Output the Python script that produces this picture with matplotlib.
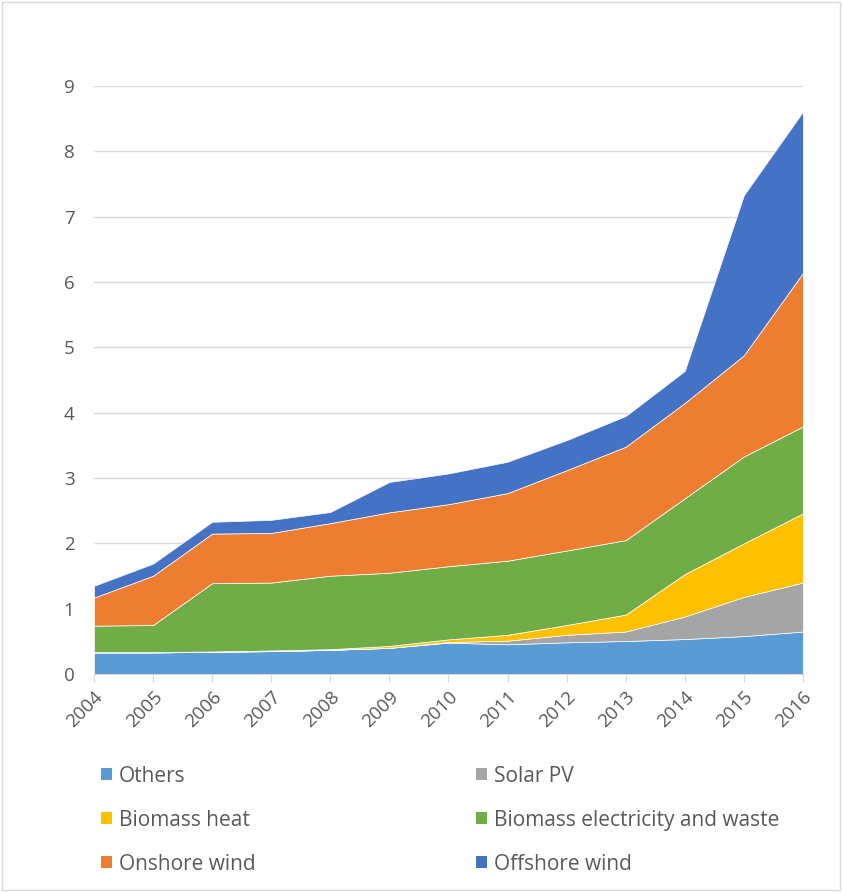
import numpy as np
import matplotlib
matplotlib.use("Agg")
import matplotlib.pyplot as plt
from matplotlib.patches import Patch

years = list(range(2004, 2017))

# values per source (stacked in this order)
others = [0.33, 0.33, 0.34, 0.35, 0.37, 0.40, 0.48, 0.455, 0.485, 0.505, 0.535, 0.58, 0.65]
solar_pv = [0.0, 0.0, 0.0, 0.0, 0.0, 0.0, 0.01, 0.055, 0.115, 0.145, 0.345, 0.60, 0.75]
biomass_heat = [0.005, 0.005, 0.005, 0.01, 0.01, 0.03, 0.04, 0.09, 0.15, 0.26, 0.65, 0.82, 1.06]
biomass_elec = [0.405, 0.415, 1.045, 1.04, 1.125, 1.12, 1.12, 1.135, 1.14, 1.14, 1.16, 1.33, 1.33]
onshore = [0.43, 0.755, 0.76, 0.76, 0.805, 0.925, 0.95, 1.035, 1.23, 1.43, 1.46, 1.55, 2.35]
offshore = [0.18, 0.185, 0.18, 0.20, 0.17, 0.465, 0.47, 0.48, 0.46, 0.47, 0.49, 2.45, 2.47]

labels = ["Others", "Solar PV", "Biomass heat", "Biomass electricity and waste",
          "Onshore wind", "Offshore wind"]
colors = ["#5B9BD5", "#A5A5A5", "#FFC000", "#70AD47", "#ED7D31", "#4472C4"]

plt.rcParams['font.family'] = ['Open Sans', 'DejaVu Sans']

fig = plt.figure(figsize=(8.42, 8.92), dpi=100)
ax = fig.add_axes([0.1116, 0.2444, 0.842, 0.659])

series = [others, solar_pv, biomass_heat, biomass_elec, onshore, offshore]
ax.stackplot(years, *series, colors=colors, labels=labels, linewidth=0.5,
             edgecolor="white", zorder=2)

ax.set_xlim(2004, 2016)
ax.set_ylim(0, 9)
ax.set_yticks(range(0, 10))
ax.set_xticks(years)
ax.set_xticklabels([str(y) for y in years], rotation=45, ha="right",
                   rotation_mode="anchor")
ax.grid(axis="y", color="#D9D9D9", linewidth=1, zorder=0)
ax.set_axisbelow(True)
for side in ["top", "right", "left"]:
    ax.spines[side].set_visible(False)
ax.spines["bottom"].set_color("#D9D9D9")
ax.tick_params(axis="y", length=0, labelsize=13.5, labelcolor="#595959", pad=14)
ax.tick_params(axis="x", length=6, color="#D9D9D9", labelsize=13.5,
               labelcolor="#595959", pad=4)

# legend: fill row by row like the original
order = [0, 2, 4, 1, 3, 5]
handles = [Patch(facecolor=colors[i], label=labels[i]) for i in order]
fig.legend(handles=handles, ncol=2, loc="upper left",
           bbox_to_anchor=(0.098, 0.1626), frameon=False, fontsize=15,
           labelcolor="#595959", handlelength=0.5, handleheight=0.5,
           handletextpad=0.35, columnspacing=10.6, labelspacing=1.1)

# light frame round the whole chart
fig.patches.append(plt.Rectangle((0.002, 0.002), 0.996, 0.996, transform=fig.transFigure,
                                 fill=False, edgecolor="#D9D9D9", linewidth=1))

fig.savefig("out.png", dpi=100)
